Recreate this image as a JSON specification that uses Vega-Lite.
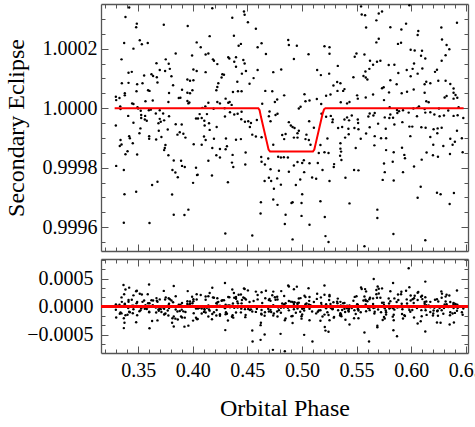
{
"$schema": "https://vega.github.io/schema/vega-lite/v6.json",
"padding": {"left": 4, "top": 3, "right": 5, "bottom": 5},
"config": {
  "font": "Liberation Serif",
  "view": {"stroke": null},
  "axis": {"minExtent": 0, "domainColor": "#555", "tickColor": "#555", "domainWidth": 1.3, "tickWidth": 1, "grid": false, "labelFont": "Liberation Serif", "labelFontSize": 20, "labelColor": "black", "titleFont": "Liberation Serif", "titleFontSize": 24, "titleFontWeight": "normal", "titleColor": "black", "labelOverlap": false, "labelFlush": false, "labelBound": false}
},
"data": {"values": [
{"p":0.3418,"f":1.000338,"r":0.000338},{"p":0.3384,"f":1.000306,"r":0.000306},{"p":0.3488,"f":1.000284,"r":0.000284},{"p":0.3482,"f":1.000272,"r":0.000272},{"p":0.3735,"f":1.00028,"r":0.00028},{"p":0.3954,"f":1.000276,"r":0.000276},{"p":0.3372,"f":1.000219,"r":0.000219},{"p":0.3515,"f":1.000228,"r":0.000228},{"p":0.3534,"f":1.000215,"r":0.000215},{"p":0.3588,"f":1.000219,"r":0.000219},{"p":0.3457,"f":1.0002,"r":0.0002},{"p":0.3844,"f":1.000184,"r":0.000184},{"p":0.3994,"f":1.000177,"r":0.000177},{"p":0.4036,"f":1.000221,"r":0.000221},{"p":0.3348,"f":1.000164,"r":0.000164},{"p":0.3668,"f":1.000151,"r":0.000151},{"p":0.3753,"f":1.000164,"r":0.000164},{"p":0.378,"f":1.000149,"r":0.000149},{"p":0.3442,"f":1.000122,"r":0.000122},{"p":0.3412,"f":1.000119,"r":0.000119},{"p":0.3622,"f":1.000114,"r":0.000114},{"p":0.3637,"f":1.000108,"r":0.000108},{"p":0.3698,"f":1.000128,"r":0.000128},{"p":0.3747,"f":1.000125,"r":0.000125},{"p":0.379,"f":1.000132,"r":0.000132},{"p":0.4006,"f":1.00013,"r":0.00013},{"p":0.4036,"f":1.000125,"r":0.000125},{"p":0.3555,"f":1.00011,"r":0.00011},{"p":0.3671,"f":1.000104,"r":0.000104},{"p":0.3805,"f":1.000107,"r":0.000107},{"p":0.3351,"f":1.000084,"r":0.000084},{"p":0.3412,"f":1.000085,"r":0.000085},{"p":0.3491,"f":1.00008,"r":0.00008},{"p":0.354,"f":1.000084,"r":0.000084},{"p":0.3677,"f":1.000086,"r":0.000086},{"p":0.382,"f":1.000077,"r":0.000077},{"p":0.3951,"f":1.000096,"r":0.000096},{"p":0.3975,"f":1.000092,"r":0.000092},{"p":0.4006,"f":1.000094,"r":0.000094},{"p":0.3378,"f":1.00005,"r":0.00005},{"p":0.3378,"f":1.000043,"r":0.000043},{"p":0.3485,"f":1.000057,"r":0.000057},{"p":0.3591,"f":1.00006,"r":0.00006},{"p":0.3604,"f":1.000058,"r":0.000058},{"p":0.3783,"f":1.000051,"r":0.000051},{"p":0.3902,"f":1.000062,"r":0.000062},{"p":0.3951,"f":1.000052,"r":0.000052},{"p":0.3975,"f":1.00005,"r":0.00005},{"p":0.3997,"f":1.00006,"r":0.00006},{"p":0.3296,"f":1.000038,"r":0.000038},{"p":0.3299,"f":1.000027,"r":0.000027},{"p":0.3329,"f":1.000034,"r":0.000034},{"p":0.3445,"f":1.000016,"r":0.000016},{"p":0.3457,"f":1.000014,"r":0.000014},{"p":0.3567,"f":1.000023,"r":0.000023},{"p":0.3634,"f":1.000026,"r":0.000026},{"p":0.3777,"f":1.000021,"r":0.000021},{"p":0.3887,"f":1.000035,"r":0.000035},{"p":0.3872,"f":1.000034,"r":0.000034},{"p":0.3969,"f":1.000019,"r":0.000019},{"p":0.396,"f":1.000016,"r":0.000016},{"p":0.3336,"f":1.000006,"r":0.000006},{"p":0.3339,"f":0.999997,"r":-0.000003},{"p":0.3494,"f":1.000003,"r":0.000003},{"p":0.35,"f":0.999999,"r":-0.000001},{"p":0.3524,"f":0.999991,"r":-0.000009},{"p":0.3528,"f":0.999977,"r":-0.000023},{"p":0.3528,"f":0.999967,"r":-0.000033},{"p":0.3564,"f":0.999974,"r":-0.000026},{"p":0.3561,"f":0.999962,"r":-0.000038},{"p":0.3598,"f":0.999993,"r":-0.000007},{"p":0.3616,"f":0.999995,"r":-0.000005},{"p":0.3662,"f":0.999982,"r":-0.000018},{"p":0.3698,"f":0.999993,"r":-0.000007},{"p":0.3698,"f":0.999964,"r":-0.000036},{"p":0.3729,"f":0.999982,"r":-0.000018},{"p":0.3738,"f":0.999959,"r":-0.000041},{"p":0.3783,"f":0.999973,"r":-0.000027},{"p":0.3951,"f":1.000024,"r":0.000024},{"p":0.403,"f":0.999965,"r":-0.000035},{"p":0.3409,"f":0.999974,"r":-0.000026},{"p":0.3457,"f":0.999951,"r":-0.000049},{"p":0.3296,"f":0.999942,"r":-0.000058},{"p":0.3579,"f":0.999958,"r":-0.000042},{"p":0.3686,"f":0.999949,"r":-0.000051},{"p":0.3707,"f":0.999954,"r":-0.000046},{"p":0.3844,"f":0.999946,"r":-0.000054},{"p":0.3899,"f":0.999945,"r":-0.000055},{"p":0.3521,"f":0.999932,"r":-0.000068},{"p":0.3512,"f":0.999916,"r":-0.000084},{"p":0.3689,"f":0.999924,"r":-0.000076},{"p":0.3771,"f":0.999928,"r":-0.000072},{"p":0.386,"f":0.999911,"r":-0.000089},{"p":0.3881,"f":0.999919,"r":-0.000081},{"p":0.3914,"f":0.999914,"r":-0.000086},{"p":0.3933,"f":0.999901,"r":-0.000099},{"p":0.3418,"f":0.999906,"r":-0.000094},{"p":0.3424,"f":0.999899,"r":-0.000101},{"p":0.3601,"f":0.999906,"r":-0.000094},{"p":0.3601,"f":0.999897,"r":-0.000103},{"p":0.3665,"f":0.999895,"r":-0.000105},{"p":0.3713,"f":0.999903,"r":-0.000097},{"p":0.3339,"f":0.999893,"r":-0.000107},{"p":0.3332,"f":0.999873,"r":-0.000127},{"p":0.3348,"f":0.999878,"r":-0.000122},{"p":0.3451,"f":0.999882,"r":-0.000118},{"p":0.375,"f":0.999876,"r":-0.000124},{"p":0.3744,"f":0.999866,"r":-0.000134},{"p":0.3738,"f":0.999859,"r":-0.000141},{"p":0.4009,"f":0.999879,"r":-0.000121},{"p":0.3403,"f":0.999855,"r":-0.000145},{"p":0.3384,"f":0.999845,"r":-0.000155},{"p":0.3491,"f":0.999844,"r":-0.000156},{"p":0.3777,"f":0.999842,"r":-0.000158},{"p":0.3826,"f":0.999824,"r":-0.000176},{"p":0.3893,"f":0.999823,"r":-0.000177},{"p":0.3902,"f":0.999806,"r":-0.000194},{"p":0.3927,"f":0.999802,"r":-0.000198},{"p":0.3299,"f":0.999806,"r":-0.000194},{"p":0.3369,"f":0.999792,"r":-0.000208},{"p":0.3814,"f":0.999792,"r":-0.000208},{"p":0.3841,"f":0.999784,"r":-0.000216},{"p":0.3863,"f":0.999768,"r":-0.000232},{"p":0.403,"f":0.9998,"r":-0.0002},{"p":0.4039,"f":0.999775,"r":-0.000225},{"p":0.4003,"f":0.999749,"r":-0.000251},{"p":0.3677,"f":0.999753,"r":-0.000247},{"p":0.3628,"f":0.999742,"r":-0.000258},{"p":0.3375,"f":0.999711,"r":-0.000289},{"p":0.3482,"f":0.999719,"r":-0.000281},{"p":0.3811,"f":0.99971,"r":-0.00029},{"p":0.396,"f":0.999659,"r":-0.000341},{"p":0.3826,"f":0.999642,"r":-0.000358},{"p":0.3924,"f":0.999641,"r":-0.000359},{"p":0.3369,"f":0.999615,"r":-0.000385},{"p":0.3604,"f":0.999614,"r":-0.000386},
{"p":0.4179,"f":1.000336,"r":0.000336},{"p":0.4469,"f":1.000325,"r":0.000325},{"p":0.4475,"f":1.000314,"r":0.000314},{"p":0.4362,"f":1.000304,"r":0.000304},{"p":0.4505,"f":1.000289,"r":0.000289},{"p":0.4578,"f":1.000267,"r":0.000267},{"p":0.4155,"f":1.000242,"r":0.000242},{"p":0.4377,"f":1.000243,"r":0.000243},{"p":0.4073,"f":1.000205,"r":0.000205},{"p":0.4441,"f":1.000216,"r":0.000216},{"p":0.442,"f":1.00021,"r":0.00021},{"p":0.463,"f":1.000218,"r":0.000257},{"p":0.4594,"f":1.000205,"r":0.000205},{"p":0.4874,"f":1.000229,"r":0.000375},{"p":0.488,"f":1.000212,"r":0.000358},{"p":0.4143,"f":1.000184,"r":0.000184},{"p":0.4118,"f":1.00018,"r":0.00018},{"p":0.4185,"f":1.000164,"r":0.000164},{"p":0.4194,"f":1.000159,"r":0.000159},{"p":0.4325,"f":1.000171,"r":0.000171},{"p":0.4335,"f":1.000167,"r":0.000167},{"p":0.4396,"f":1.000171,"r":0.000171},{"p":0.438,"f":1.000156,"r":0.000156},{"p":0.4463,"f":1.000162,"r":0.000162},{"p":0.4475,"f":1.00015,"r":0.00015},{"p":0.4225,"f":1.000148,"r":0.000148},{"p":0.4396,"f":1.000139,"r":0.000139},{"p":0.467,"f":1.000182,"r":0.000284},{"p":0.4118,"f":1.000121,"r":0.000121},{"p":0.4271,"f":1.000114,"r":0.000114},{"p":0.4286,"f":1.000112,"r":0.000112},{"p":0.4264,"f":1.000103,"r":0.000103},{"p":0.445,"f":1.000116,"r":0.000116},{"p":0.4487,"f":1.000125,"r":0.000125},{"p":0.4594,"f":1.000128,"r":0.000128},{"p":0.4737,"f":1.000121,"r":0.000267},{"p":0.481,"f":1.00013,"r":0.000276},{"p":0.4408,"f":1.000089,"r":0.000089},{"p":0.4557,"f":1.000101,"r":0.000101},{"p":0.452,"f":1.000082,"r":0.000082},{"p":0.4234,"f":1.000084,"r":0.000084},{"p":0.4225,"f":1.000071,"r":0.000071},{"p":0.4216,"f":1.00006,"r":0.00006},{"p":0.4368,"f":1.000054,"r":0.000054},{"p":0.4414,"f":1.000057,"r":0.000057},{"p":0.4447,"f":1.000057,"r":0.000057},{"p":0.4664,"f":1.000058,"r":0.00015},{"p":0.4728,"f":1.000057,"r":0.000203},{"p":0.4837,"f":1.000043,"r":0.000189},{"p":0.4225,"f":1.000021,"r":0.000021},{"p":0.4249,"f":1.000016,"r":0.000016},{"p":0.4301,"f":1.000032,"r":0.000032},{"p":0.4325,"f":1.000018,"r":0.000018},{"p":0.4338,"f":1.000021,"r":0.000021},{"p":0.4356,"f":1.000011,"r":0.000011},{"p":0.4143,"f":1.000018,"r":0.000018},{"p":0.4115,"f":1.000006,"r":0.000006},{"p":0.4773,"f":1.000029,"r":0.000175},{"p":0.4752,"f":1.000021,"r":0.000167},{"p":0.4636,"f":1.000015,"r":0.000063},{"p":0.4088,"f":1.000001,"r":0.000001},{"p":0.4191,"f":0.999998,"r":-0.000002},{"p":0.4292,"f":1.0,"r":0.0},{"p":0.4341,"f":0.999986,"r":-0.000014},{"p":0.438,"f":0.999979,"r":-0.000021},{"p":0.4411,"f":0.999981,"r":-0.000019},{"p":0.4447,"f":0.999988,"r":-0.000012},{"p":0.4063,"f":0.99998,"r":-0.00002},{"p":0.4082,"f":0.999967,"r":-0.000033},{"p":0.4048,"f":0.999965,"r":-0.000035},{"p":0.413,"f":0.99998,"r":-0.00002},{"p":0.4295,"f":0.999972,"r":-0.000028},{"p":0.4444,"f":0.999963,"r":-0.000037},{"p":0.4703,"f":0.999989,"r":0.000135},{"p":0.4697,"f":0.999973,"r":0.000119},{"p":0.4758,"f":0.999977,"r":0.000123},{"p":0.4776,"f":0.999981,"r":0.000127},{"p":0.4106,"f":0.999958,"r":-0.000042},{"p":0.4109,"f":0.999942,"r":-0.000058},{"p":0.4149,"f":0.999949,"r":-0.000051},{"p":0.4155,"f":0.999927,"r":-0.000073},{"p":0.4219,"f":0.999937,"r":-0.000063},{"p":0.4478,"f":0.999954,"r":-0.000046},{"p":0.4508,"f":0.999956,"r":-0.000044},{"p":0.4533,"f":0.99995,"r":-0.00005},{"p":0.4523,"f":0.999937,"r":-0.000063},{"p":0.4587,"f":0.99996,"r":-0.00004},{"p":0.4712,"f":0.999956,"r":0.000102},{"p":0.488,"f":0.999953,"r":0.000099},{"p":0.4898,"f":0.999942,"r":0.000088},{"p":0.4103,"f":0.999905,"r":-0.000095},{"p":0.4118,"f":0.999893,"r":-0.000107},{"p":0.4194,"f":0.999897,"r":-0.000103},{"p":0.4304,"f":0.999898,"r":-0.000102},{"p":0.4396,"f":0.999894,"r":-0.000106},{"p":0.4441,"f":0.999896,"r":-0.000104},{"p":0.4545,"f":0.999911,"r":-0.000089},{"p":0.4578,"f":0.999905,"r":-0.000095},{"p":0.463,"f":0.999902,"r":-0.00006},{"p":0.4819,"f":0.99991,"r":0.000056},{"p":0.4837,"f":0.999896,"r":0.000042},{"p":0.4082,"f":0.999877,"r":-0.000123},{"p":0.4179,"f":0.999866,"r":-0.000134},{"p":0.4249,"f":0.999863,"r":-0.000137},{"p":0.4313,"f":0.999872,"r":-0.000128},{"p":0.4301,"f":0.999862,"r":-0.000138},{"p":0.4365,"f":0.999843,"r":-0.000157},{"p":0.4484,"f":0.999851,"r":-0.000149},{"p":0.4737,"f":0.999877,"r":0.000023},{"p":0.485,"f":0.999913,"r":0.000059},{"p":0.4216,"f":0.999842,"r":-0.000158},{"p":0.4249,"f":0.999834,"r":-0.000166},{"p":0.4691,"f":0.999831,"r":-0.000038},{"p":0.4627,"f":0.999836,"r":-0.00013},{"p":0.463,"f":0.99982,"r":-0.000141},{"p":0.4782,"f":0.999837,"r":-0.000017},{"p":0.4807,"f":0.999834,"r":-0.00002},{"p":0.4834,"f":0.999835,"r":-0.000019},{"p":0.4871,"f":0.999834,"r":-0.00002},{"p":0.4143,"f":0.999823,"r":-0.000177},{"p":0.4359,"f":0.999817,"r":-0.000183},{"p":0.4371,"f":0.999802,"r":-0.000198},{"p":0.4481,"f":0.999811,"r":-0.000189},{"p":0.4661,"f":0.999811,"r":-0.000102},{"p":0.4712,"f":0.999795,"r":-0.000059},{"p":0.4789,"f":0.99979,"r":-0.000064},{"p":0.488,"f":0.999786,"r":-0.000068},{"p":0.4045,"f":0.999776,"r":-0.000224},{"p":0.4176,"f":0.999774,"r":-0.000226},{"p":0.4322,"f":0.999751,"r":-0.000249},{"p":0.4658,"f":0.999755,"r":-0.000163},{"p":0.4697,"f":0.999766,"r":-0.000088},{"p":0.4718,"f":0.999755,"r":-0.000099},{"p":0.4807,"f":0.999743,"r":-0.000111},{"p":0.4773,"f":0.999764,"r":-0.00009},{"p":0.4743,"f":0.999729,"r":-0.000125},{"p":0.4624,"f":0.999684,"r":-0.00029},{"p":0.4737,"f":0.999693,"r":-0.000161},{"p":0.4776,"f":0.999675,"r":-0.000179},{"p":0.4904,"f":0.999681,"r":-0.000173},{"p":0.4621,"f":0.999646,"r":-0.000332},{"p":0.485,"f":0.999642,"r":-0.000212},{"p":0.4843,"f":0.999611,"r":-0.000243},{"p":0.4298,"f":0.999579,"r":-0.000421},
{"p":0.5541,"f":1.000342,"r":0.000342},{"p":0.5547,"f":1.000315,"r":0.000315},{"p":0.5578,"f":1.000312,"r":0.000312},{"p":0.5587,"f":1.000271,"r":0.000271},{"p":0.5681,"f":1.000295,"r":0.000295},{"p":0.5703,"f":1.000318,"r":0.000318},{"p":0.5733,"f":1.000325,"r":0.000325},{"p":0.5681,"f":1.000221,"r":0.000221},{"p":0.5703,"f":1.000233,"r":0.000233},{"p":0.4953,"f":1.00021,"r":0.000356},{"p":0.5206,"f":1.000208,"r":0.000212},{"p":0.5252,"f":1.000205,"r":0.000205},{"p":0.5252,"f":1.000183,"r":0.000183},{"p":0.506,"f":1.000181,"r":0.000327},{"p":0.4926,"f":1.000165,"r":0.000311},{"p":0.5499,"f":1.000184,"r":0.000184},{"p":0.5483,"f":1.000173,"r":0.000173},{"p":0.5572,"f":1.00018,"r":0.00018},{"p":0.5623,"f":1.000159,"r":0.000159},{"p":0.5651,"f":1.000146,"r":0.000146},{"p":0.5687,"f":1.000156,"r":0.000156},{"p":0.5718,"f":1.000159,"r":0.000159},{"p":0.5139,"f":1.000128,"r":0.00023},{"p":0.5173,"f":1.000111,"r":0.000164},{"p":0.5249,"f":1.000116,"r":0.000116},{"p":0.5328,"f":1.000142,"r":0.000142},{"p":0.5581,"f":1.000123,"r":0.000123},{"p":0.5617,"f":1.000132,"r":0.000132},{"p":0.5563,"f":1.000108,"r":0.000108},{"p":0.5584,"f":1.000103,"r":0.000103},{"p":0.5599,"f":1.000096,"r":0.000096},{"p":0.5471,"f":1.000104,"r":0.000104},{"p":0.5322,"f":1.000088,"r":0.000088},{"p":0.5288,"f":1.000076,"r":0.000076},{"p":0.5352,"f":1.000084,"r":0.000084},{"p":0.5389,"f":1.000064,"r":0.000064},{"p":0.5377,"f":1.000058,"r":0.000058},{"p":0.5325,"f":1.000058,"r":0.000058},{"p":0.5651,"f":1.000046,"r":0.000046},{"p":0.5733,"f":1.000067,"r":0.000067},{"p":0.5023,"f":1.000047,"r":0.000193},{"p":0.5221,"f":1.000042,"r":0.000042},{"p":0.5261,"f":1.000046,"r":0.000046},{"p":0.5355,"f":1.00002,"r":0.00002},{"p":0.5413,"f":1.000016,"r":0.000016},{"p":0.5435,"f":1.000021,"r":0.000021},{"p":0.5505,"f":1.000043,"r":0.000043},{"p":0.5511,"f":1.000032,"r":0.000032},{"p":0.5584,"f":1.000036,"r":0.000036},{"p":0.5751,"f":1.000027,"r":0.000027},{"p":0.4971,"f":0.999999,"r":0.000145},{"p":0.4987,"f":1.000005,"r":0.000151},{"p":0.5032,"f":1.000023,"r":0.000169},{"p":0.5069,"f":1.000026,"r":0.000172},{"p":0.5136,"f":1.000031,"r":0.000137},{"p":0.5176,"f":1.000014,"r":0.000063},{"p":0.5179,"f":0.999981,"r":0.000025},{"p":0.5221,"f":0.999971,"r":-0.000029},{"p":0.5264,"f":0.999974,"r":-0.000026},{"p":0.5282,"f":0.999962,"r":-0.000038},{"p":0.5279,"f":0.999953,"r":-0.000047},{"p":0.5389,"f":0.999962,"r":-0.000038},{"p":0.5431,"f":0.999959,"r":-0.000041},{"p":0.5413,"f":0.999969,"r":-0.000031},{"p":0.5456,"f":0.999975,"r":-0.000025},{"p":0.5511,"f":0.999962,"r":-0.000038},{"p":0.5514,"f":0.99995,"r":-0.00005},{"p":0.5608,"f":0.999972,"r":-0.000028},{"p":0.562,"f":0.999982,"r":-0.000018},{"p":0.5654,"f":0.999975,"r":-0.000025},{"p":0.5666,"f":0.999984,"r":-0.000016},{"p":0.5697,"f":0.999948,"r":-0.000052},{"p":0.5758,"f":0.999969,"r":-0.000031},{"p":0.4914,"f":0.999937,"r":0.000083},{"p":0.4932,"f":0.999933,"r":0.000079},{"p":0.4959,"f":0.999916,"r":0.000062},{"p":0.4971,"f":0.999924,"r":0.00007},{"p":0.5066,"f":0.999956,"r":0.000102},{"p":0.5109,"f":0.999934,"r":0.00008},{"p":0.5331,"f":0.999933,"r":-0.000067},{"p":0.5368,"f":0.999937,"r":-0.000063},{"p":0.5425,"f":0.999931,"r":-0.000069},{"p":0.548,"f":0.999933,"r":-0.000067},{"p":0.5517,"f":0.999929,"r":-0.000071},{"p":0.562,"f":0.999936,"r":-0.000064},{"p":0.5767,"f":0.999931,"r":-0.000069},{"p":0.4926,"f":0.999901,"r":0.000047},{"p":0.4959,"f":0.999901,"r":0.000047},{"p":0.5032,"f":0.999896,"r":0.000042},{"p":0.5041,"f":0.999911,"r":0.000057},{"p":0.5063,"f":0.999893,"r":0.000039},{"p":0.5233,"f":0.999898,"r":-0.000102},{"p":0.5395,"f":0.999901,"r":-0.000099},{"p":0.5428,"f":0.999912,"r":-0.000088},{"p":0.5538,"f":0.999897,"r":-0.000103},{"p":0.5587,"f":0.999915,"r":-0.000085},{"p":0.5666,"f":0.999906,"r":-0.000094},{"p":0.577,"f":0.999899,"r":-0.000101},{"p":0.5078,"f":0.999877,"r":0.000023},{"p":0.5352,"f":0.999882,"r":-0.000118},{"p":0.5352,"f":0.999864,"r":-0.000136},{"p":0.5358,"f":0.999854,"r":-0.000146},{"p":0.5492,"f":0.999866,"r":-0.000134},{"p":0.5663,"f":0.999875,"r":-0.000125},{"p":0.5169,"f":0.999876,"r":-0.000067},{"p":0.5154,"f":0.999849,"r":-0.000071},{"p":0.5206,"f":0.999852,"r":-0.000144},{"p":0.5243,"f":0.999849,"r":-0.000151},{"p":0.5002,"f":0.999816,"r":-0.000038},{"p":0.5017,"f":0.999825,"r":-0.000029},{"p":0.4959,"f":0.999819,"r":-0.000035},{"p":0.4926,"f":0.999807,"r":-0.000047},{"p":0.5069,"f":0.999815,"r":-0.000039},{"p":0.5145,"f":0.999816,"r":-0.000091},{"p":0.5294,"f":0.999812,"r":-0.000188},{"p":0.5291,"f":0.999802,"r":-0.000198},{"p":0.5349,"f":0.99984,"r":-0.00016},{"p":0.5361,"f":0.999826,"r":-0.000174},{"p":0.5188,"f":0.999792,"r":-0.000177},{"p":0.502,"f":0.999785,"r":-0.000069},{"p":0.5477,"f":0.999792,"r":-0.000208},{"p":0.5517,"f":0.999791,"r":-0.000209},{"p":0.5751,"f":0.999814,"r":-0.000186},{"p":0.5758,"f":0.999785,"r":-0.000215},{"p":0.5093,"f":0.999767,"r":-0.000087},{"p":0.513,"f":0.999763,"r":-0.000122},{"p":0.4984,"f":0.99976,"r":-0.000094},{"p":0.5252,"f":0.999755,"r":-0.000245},{"p":0.5398,"f":0.999766,"r":-0.000234},{"p":0.5739,"f":0.999759,"r":-0.000241},{"p":0.4944,"f":0.999742,"r":-0.000112},{"p":0.5002,"f":0.999711,"r":-0.000143},{"p":0.4914,"f":0.999684,"r":-0.00017},{"p":0.4996,"f":0.999681,"r":-0.000173},{"p":0.5169,"f":0.999687,"r":-0.000255},{"p":0.5435,"f":0.99968,"r":-0.00032},{"p":0.4996,"f":0.999638,"r":-0.000216},{"p":0.5209,"f":0.999634,"r":-0.000366},{"p":0.5069,"f":0.999608,"r":-0.000246},{"p":0.569,"f":0.999659,"r":-0.000341},{"p":0.569,"f":0.999631,"r":-0.000369},{"p":0.4914,"f":0.999559,"r":-0.000295},{"p":0.577,"f":0.999859,"r":-0.000141},{"p":0.5724,"f":0.999899,"r":-0.000101},{"p":0.5748,"f":1.00007,"r":0.00007},
{"p":0.5983,"f":1.000346,"r":0.000346},{"p":0.5953,"f":1.000284,"r":0.000284},{"p":0.591,"f":1.000264,"r":0.000264},{"p":0.5809,"f":1.000272,"r":0.000272},{"p":0.6065,"f":1.000259,"r":0.000259},{"p":0.6059,"f":1.000246,"r":0.000246},{"p":0.6276,"f":1.000271,"r":0.000271},{"p":0.6419,"f":1.000287,"r":0.000287},{"p":0.5879,"f":1.000216,"r":0.000216},{"p":0.5907,"f":1.00022,"r":0.00022},{"p":0.5995,"f":1.000196,"r":0.000196},{"p":0.6032,"f":1.000194,"r":0.000194},{"p":0.6099,"f":1.000193,"r":0.000193},{"p":0.609,"f":1.000176,"r":0.000176},{"p":0.6129,"f":1.000167,"r":0.000167},{"p":0.6282,"f":1.000231,"r":0.000231},{"p":0.6324,"f":1.000212,"r":0.000212},{"p":0.6349,"f":1.000198,"r":0.000198},{"p":0.6315,"f":1.000178,"r":0.000178},{"p":0.6279,"f":1.000159,"r":0.000159},{"p":0.5794,"f":1.000145,"r":0.000145},{"p":0.5846,"f":1.000146,"r":0.000146},{"p":0.6026,"f":1.00015,"r":0.00015},{"p":0.5882,"f":1.000118,"r":0.000118},{"p":0.5959,"f":1.000128,"r":0.000128},{"p":0.5995,"f":1.000107,"r":0.000107},{"p":0.6013,"f":1.000132,"r":0.000132},{"p":0.6059,"f":1.000116,"r":0.000116},{"p":0.6102,"f":1.000133,"r":0.000133},{"p":0.6236,"f":1.000129,"r":0.000129},{"p":0.6218,"f":1.000122,"r":0.000122},{"p":0.5809,"f":1.000094,"r":0.000094},{"p":0.5867,"f":1.00008,"r":0.00008},{"p":0.6138,"f":1.000089,"r":0.000089},{"p":0.6123,"f":1.00008,"r":0.00008},{"p":0.6175,"f":1.000084,"r":0.000084},{"p":0.6248,"f":1.000092,"r":0.000092},{"p":0.6315,"f":1.000092,"r":0.000092},{"p":0.6358,"f":1.000081,"r":0.000081},{"p":0.6388,"f":1.000066,"r":0.000066},{"p":0.6388,"f":1.000052,"r":0.000052},{"p":0.5797,"f":1.000053,"r":0.000053},{"p":0.5913,"f":1.00005,"r":0.00005},{"p":0.5962,"f":1.000055,"r":0.000055},{"p":0.6023,"f":1.000063,"r":0.000063},{"p":0.6123,"f":1.000052,"r":0.000052},{"p":0.6324,"f":1.000041,"r":0.000041},{"p":0.6306,"f":1.000036,"r":0.000036},{"p":0.6406,"f":1.000044,"r":0.000044},{"p":0.6388,"f":1.000032,"r":0.000032},{"p":0.6422,"f":1.000035,"r":0.000035},{"p":0.6138,"f":1.000023,"r":0.000023},{"p":0.616,"f":1.00002,"r":0.00002},{"p":0.6434,"f":1.000003,"r":0.000003},{"p":0.5803,"f":1.000003,"r":0.000003},{"p":0.587,"f":0.999994,"r":-0.000006},{"p":0.5889,"f":0.99999,"r":-0.00001},{"p":0.5925,"f":0.999993,"r":-0.000007},{"p":0.602,"f":0.999999,"r":-0.000001},{"p":0.6056,"f":1.000001,"r":0.000001},{"p":0.6071,"f":1.000006,"r":0.000006},{"p":0.6123,"f":0.999997,"r":-0.000003},{"p":0.6175,"f":0.999986,"r":-0.000014},{"p":0.6212,"f":0.999979,"r":-0.000021},{"p":0.6254,"f":0.999999,"r":-0.000001},{"p":0.63,"f":0.999975,"r":-0.000025},{"p":0.6339,"f":0.999992,"r":-0.000008},{"p":0.6388,"f":0.999974,"r":-0.000026},{"p":0.6425,"f":0.999976,"r":-0.000024},{"p":0.58,"f":0.999967,"r":-0.000033},{"p":0.5809,"f":0.999979,"r":-0.000021},{"p":0.5834,"f":0.999968,"r":-0.000032},{"p":0.5873,"f":0.999984,"r":-0.000016},{"p":0.5977,"f":0.999985,"r":-0.000015},{"p":0.6053,"f":0.999973,"r":-0.000027},{"p":0.6129,"f":0.999985,"r":-0.000015},{"p":0.626,"f":0.999973,"r":-0.000027},{"p":0.6477,"f":0.999967,"r":-0.000033},{"p":0.5846,"f":0.999945,"r":-0.000055},{"p":0.5919,"f":0.999953,"r":-0.000047},{"p":0.5983,"f":0.999938,"r":-0.000062},{"p":0.601,"f":0.999938,"r":-0.000062},{"p":0.6093,"f":0.999936,"r":-0.000064},{"p":0.6132,"f":0.999934,"r":-0.000066},{"p":0.6205,"f":0.999929,"r":-0.000071},{"p":0.6242,"f":0.999932,"r":-0.000068},{"p":0.6239,"f":0.999916,"r":-0.000084},{"p":0.6279,"f":0.999934,"r":-0.000066},{"p":0.6419,"f":0.999924,"r":-0.000076},{"p":0.5992,"f":0.999906,"r":-0.000094},{"p":0.6175,"f":0.999903,"r":-0.000097},{"p":0.6202,"f":0.999877,"r":-0.000123},{"p":0.6294,"f":0.999873,"r":-0.000127},{"p":0.6358,"f":0.999897,"r":-0.000103},{"p":0.6379,"f":0.999877,"r":-0.000123},{"p":0.64,"f":0.999887,"r":-0.000113},{"p":0.6464,"f":0.999899,"r":-0.000101},{"p":0.584,"f":0.999852,"r":-0.000148},{"p":0.5916,"f":0.999867,"r":-0.000133},{"p":0.5937,"f":0.999843,"r":-0.000157},{"p":0.5943,"f":0.999832,"r":-0.000168},{"p":0.6096,"f":0.999827,"r":-0.000173},{"p":0.6141,"f":0.999851,"r":-0.000149},{"p":0.6199,"f":0.999842,"r":-0.000158},{"p":0.6245,"f":0.999837,"r":-0.000163},{"p":0.6355,"f":0.999846,"r":-0.000154},{"p":0.6471,"f":0.999852,"r":-0.000148},{"p":0.5831,"f":0.99982,"r":-0.00018},{"p":0.6026,"f":0.999804,"r":-0.000196},{"p":0.584,"f":0.999757,"r":-0.000243},{"p":0.5925,"f":0.999785,"r":-0.000215},{"p":0.6087,"f":0.999736,"r":-0.000264},{"p":0.6059,"f":0.999699,"r":-0.000301},{"p":0.6236,"f":0.999716,"r":-0.000284},{"p":0.6269,"f":0.999711,"r":-0.000289},{"p":0.6391,"f":0.999715,"r":-0.000285},{"p":0.6352,"f":0.999678,"r":-0.000322},{"p":0.5837,"f":0.999577,"r":-0.000423},{"p":0.6129,"f":0.999556,"r":-0.000444},
{"p":0.4545,"f":0.999572,"r":-0.000428},{"p":0.4548,"f":0.999375,"r":-0.000625},{"p":0.4621,"f":0.999381,"r":-0.000595},{"p":0.4658,"f":0.999417,"r":-0.0005},{"p":0.4734,"f":0.99908,"r":-0.000774},{"p":0.4804,"f":0.999366,"r":-0.000488},{"p":0.502,"f":0.999348,"r":-0.000506},{"p":0.5096,"f":0.999229,"r":-0.000625},{"p":0.4843,"f":0.999057,"r":-0.000797},{"p":0.5215,"f":0.99957,"r":-0.00043},{"p":0.5243,"f":0.99955,"r":-0.00045},{"p":0.5572,"f":0.999536,"r":-0.000464},{"p":0.5614,"f":0.999375,"r":-0.000625},{"p":0.587,"f":0.99947,"r":-0.00053},{"p":0.5977,"f":1.000684,"r":0.000684},{"p":0.5657,"f":1.000494,"r":0.000494},{"p":0.5693,"f":1.000357,"r":0.000357},{"p":0.5834,"f":1.000422,"r":0.000422},{"p":0.6129,"f":1.000446,"r":0.000446},{"p":0.5206,"f":1.000371,"r":0.000375},{"p":0.4295,"f":1.000422,"r":0.000422},{"p":0.3366,"f":1.000387,"r":0.000387},{"p":0.36,"f":1.000393,"r":0.000393},{"p":0.3826,"f":1.000369,"r":0.000369}
]},
"spacing": -4,
"vconcat": [
 {
  "width": 367, "height": 247,
  "resolve": {"axis": {"x": "independent", "y": "independent"}},
  "layer": [
   {"mark": {"type": "circle", "size": 6, "color": "black", "opacity": 1, "clip": true},
    "encoding": {
     "x": {"field": "p", "type": "quantitative", "scale": {"domain": [0.316, 0.652], "nice": false, "zero": false},
       "axis": {"orient": "bottom", "title": null, "labels": false, "values": [0.32,0.33,0.34,0.35,0.36,0.37,0.38,0.39,0.4,0.41,0.42,0.43,0.44,0.45,0.46,0.47,0.48,0.49,0.5,0.51,0.52,0.53,0.54,0.55,0.56,0.57,0.58,0.59,0.6,0.61,0.62,0.63,0.64,0.65],
         "tickSize": {"condition": {"test": "abs(datum.value*20-round(datum.value*20))<0.01", "value": -7}, "value": -4}}},
     "y": {"field": "f", "type": "quantitative", "scale": {"domain": [0.99952, 1.00035], "nice": false, "zero": false},
       "axis": {"orient": "left", "title": "Secondary Eclipse", "titlePadding": 14,
         "values": [0.99955,0.9996,0.99965,0.9997,0.99975,0.9998,0.99985,0.9999,0.99995,1.0,1.00005,1.0001,1.00015,1.0002,1.00025,1.0003],
         "labelExpr": "abs(datum.value*5000-round(datum.value*5000))<0.01 ? format(datum.value, '.4f') : ''",
         "labelPadding": 11,
         "tickSize": {"condition": {"test": "abs(datum.value*5000-round(datum.value*5000))<0.01", "value": -7}, "value": -4}}}
    }},
   {"data": {"values": [{"p":0.3285,"f":1.0},{"p":0.46,"f":1.0},{"p":0.4612,"f":0.999993},{"p":0.4625,"f":0.99997},{"p":0.4682,"f":0.99988},{"p":0.4694,"f":0.999861},{"p":0.4708,"f":0.999854},{"p":0.51,"f":0.999854},{"p":0.5113,"f":0.999861},{"p":0.5125,"f":0.99988},{"p":0.5188,"f":0.99998},{"p":0.5202,"f":0.999996},{"p":0.5215,"f":1.0},{"p":0.648,"f":1.0}]},
    "mark": {"type": "line", "color": "#ff0000", "strokeWidth": 2, "clip": true},
    "encoding": {
     "x": {"field": "p", "type": "quantitative",
       "axis": {"orient": "top", "title": null, "labels": false, "values": [0.32,0.33,0.34,0.35,0.36,0.37,0.38,0.39,0.4,0.41,0.42,0.43,0.44,0.45,0.46,0.47,0.48,0.49,0.5,0.51,0.52,0.53,0.54,0.55,0.56,0.57,0.58,0.59,0.6,0.61,0.62,0.63,0.64,0.65],
         "tickSize": {"condition": {"test": "abs(datum.value*20-round(datum.value*20))<0.01", "value": -7}, "value": -4}}},
     "y": {"field": "f", "type": "quantitative",
       "axis": {"orient": "right", "title": null, "labels": false,
         "values": [0.99955,0.9996,0.99965,0.9997,0.99975,0.9998,0.99985,0.9999,0.99995,1.0,1.00005,1.0001,1.00015,1.0002,1.00025,1.0003],
         "tickSize": {"condition": {"test": "abs(datum.value*5000-round(datum.value*5000))<0.01", "value": -7}, "value": -4}}}
    }}
  ]
 },
 {
  "width": 367, "height": 94,
  "resolve": {"axis": {"x": "independent", "y": "independent"}},
  "layer": [
   {"mark": {"type": "circle", "size": 6, "color": "black", "opacity": 1, "clip": true},
    "encoding": {
     "x": {"field": "p", "type": "quantitative", "scale": {"domain": [0.316, 0.652], "nice": false, "zero": false},
       "axis": {"orient": "bottom", "title": "Orbital Phase", "titlePadding": 13, "labelPadding": 14,
         "values": [0.32,0.33,0.34,0.35,0.36,0.37,0.38,0.39,0.4,0.41,0.42,0.43,0.44,0.45,0.46,0.47,0.48,0.49,0.5,0.51,0.52,0.53,0.54,0.55,0.56,0.57,0.58,0.59,0.6,0.61,0.62,0.63,0.64,0.65],
         "labelExpr": "abs(datum.value*20-round(datum.value*20))<0.01 ? format(datum.value, '.2f') : ''",
         "tickSize": {"condition": {"test": "abs(datum.value*20-round(datum.value*20))<0.01", "value": -7}, "value": -4}}},
     "y": {"field": "r", "type": "quantitative", "scale": {"domain": [-0.00083, 0.00085], "nice": false, "zero": false},
       "axis": {"orient": "left", "title": null, "labelPadding": 15,
         "values": [-0.00066667,-0.0005,-0.00033333,-0.00016667,0,0.00016667,0.00033333,0.0005,0.00066667,0.00083333],
         "labelExpr": "abs(datum.value*2000-round(datum.value*2000))<0.01 ? format(datum.value, '.4f') : ''",
         "tickSize": {"condition": {"test": "abs(datum.value*2000-round(datum.value*2000))<0.01", "value": -7}, "value": -4}}}
    }},
   {"mark": {"type": "rule", "color": "#ff0000", "strokeWidth": 2},
    "encoding": {
     "y": {"datum": 0, "type": "quantitative",
       "axis": {"orient": "right", "title": null, "labels": false,
         "values": [-0.00066667,-0.0005,-0.00033333,-0.00016667,0,0.00016667,0.00033333,0.0005,0.00066667,0.00083333],
         "tickSize": {"condition": {"test": "abs(datum.value*2000-round(datum.value*2000))<0.01", "value": -7}, "value": -4}}}
    }},
   {"mark": {"type": "circle", "size": 6, "opacity": 0},
    "encoding": {
     "x": {"field": "p", "type": "quantitative",
       "axis": {"orient": "top", "title": null, "labels": false,
         "values": [0.32,0.33,0.34,0.35,0.36,0.37,0.38,0.39,0.4,0.41,0.42,0.43,0.44,0.45,0.46,0.47,0.48,0.49,0.5,0.51,0.52,0.53,0.54,0.55,0.56,0.57,0.58,0.59,0.6,0.61,0.62,0.63,0.64,0.65],
         "tickSize": {"condition": {"test": "abs(datum.value*20-round(datum.value*20))<0.01", "value": -7}, "value": -4}}},
     "y": {"field": "r", "type": "quantitative", "axis": null}
    }}
  ]
 }
]
}
